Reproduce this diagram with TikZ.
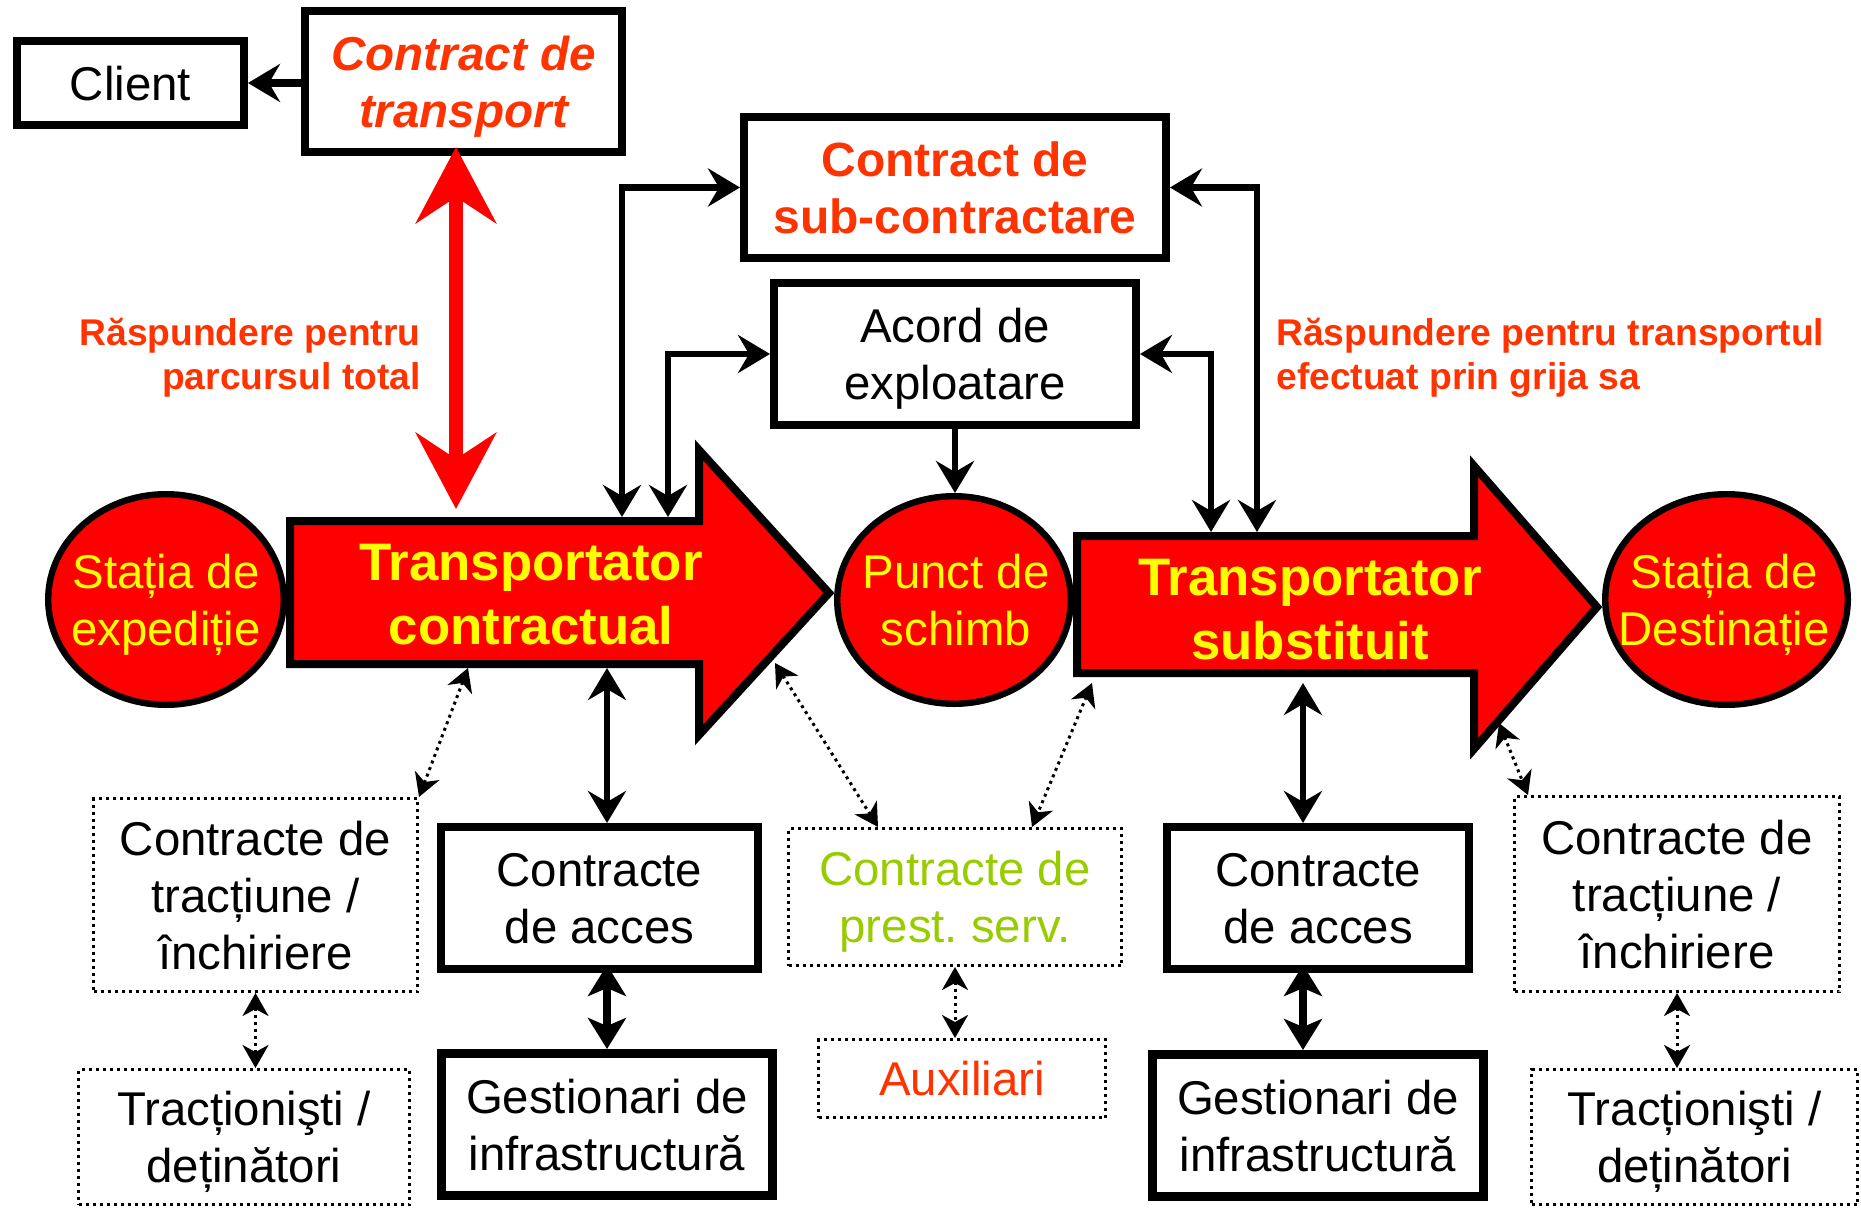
\documentclass[tikz,border=0pt]{standalone}
\usepackage{fontspec}
\setmainfont{Liberation Sans}
\usepackage{tikz}
\usetikzlibrary{arrows.meta, shapes.geometric}
\definecolor{arrowred}{HTML}{FF0000}
\definecolor{textorange}{HTML}{FF3300}
\definecolor{textgreen}{HTML}{99CC00}
\definecolor{textyellow}{HTML}{FFFF00}
\newcommand{\fsz}[2]{\fontsize{#1}{#2}\selectfont}
\tikzset{
	solidbox/.style={draw, line width=3.8pt, inner sep=0pt, align=center, text depth=0pt, font=\fsz{23.7pt}{28.5pt}},
	dotbox/.style={draw, line width=1.5pt, dash pattern=on 1.5pt off 2pt, inner sep=0pt, align=center, text depth=0pt, font=\fsz{23.7pt}{28.5pt}},
	station/.style={ellipse, draw, line width=3.2pt, fill=arrowred, inner sep=0pt},
	stationtext/.style={text=textyellow, align=center, inner sep=0pt, text depth=0pt, font=\fsz{23.7pt}{28.5pt}},
	carrier/.style={draw, line width=4pt, fill=arrowred, line join=miter},
	carriertext/.style={text=textyellow, align=center, inner sep=0pt, text depth=0pt, font=\bfseries\fsz{26.4pt}{32pt}},
	resptext/.style={text=textorange, inner sep=0pt, text depth=0pt, font=\bfseries\fsz{18.6pt}{22pt}},
	link/.style={line width=3.3pt, >={Stealth[length=16pt,width=19pt,inset=5.5pt]}},
	heavylink/.style={line width=4pt, shorten <=-4pt, >={Stealth[length=15.5pt,width=19pt,inset=4pt]}},
	dotlink/.style={line width=1.5pt, dash pattern=on 1.5pt off 2pt, >={Stealth[length=11.5pt,width=13pt,inset=3.5pt]}},
	resp/.style={draw=arrowred, line width=7pt, >={Stealth[length=38pt,width=40pt,inset=13pt]}}
}
\begin{document}
\begin{tikzpicture}[x=0.5pt, y=-0.5pt]
	\useasboundingbox (0,0) rectangle (1861,1208);
	\node[solidbox, minimum width=113.7pt, minimum height=42.2pt] (client) at (130.5,83) {Client};
	\node[solidbox, minimum width=158.7pt, minimum height=70.7pt, text=textorange, font=\bfseries\itshape\fsz{23.8pt}{28.5pt}] (ctransport) at (463.5,81.5) {Contract de\\transport};
	\node[solidbox, minimum width=211.2pt, minimum height=70.7pt, text=textorange, font=\bfseries\fsz{24pt}{28.5pt}] (subcontract) at (955,187.5) {Contract de\\sub-contractare};
	\node[solidbox, minimum width=181.2pt, minimum height=71.2pt] (acord) at (955,354) {Acord de\\exploatare};
	\node[resptext, align=right, anchor=east] (respA) at (421,354) {Răspundere pentru\\parcursul total};
	\node[resptext, align=left, anchor=west] (respB) at (1276,354) {Răspundere pentru transportul\\efectuat prin grija sa};

	\node[station, minimum width=117.8pt, minimum height=105.3pt] (expA) at (166,599.5) {};
	\node[stationtext] (expAtext) at (expA) {Stația de\\expediție};
	\node[station, minimum width=116.8pt, minimum height=103.8pt] (punct) at (954,600) {};
	\node[stationtext] (puncttext) at (956,600) {Punct de\\schimb};
	\node[station, minimum width=121.3pt, minimum height=105.3pt] (dest) at (1726.5,599.5) {};
	\node[stationtext] (desttext) at (1724,600) {Stația de\\Destinație};

	\draw[carrier] (290,521) -- (699,521) -- (699,450) -- (829,593) -- (699,735) -- (699,664) -- (290,664) -- cycle;
	\node[carriertext] (contr) at (531,594) {Transportator\\contractual};
	\draw[carrier] (1077,536) -- (1474,536) -- (1474,466) -- (1597,607) -- (1474,749) -- (1474,673) -- (1077,673) -- cycle;
	\node[carriertext] (subst) at (1310,609) {Transportator\\substituit};

	\node[dotbox, minimum width=162pt, minimum height=96.5pt] (tractA) at (255.5,895) {Contracte de\\tracțiune /\\închiriere};
	\node[solidbox, minimum width=158.7pt, minimum height=71.2pt] (accesA) at (599.5,898) {Contracte\\de acces};
	\node[dotbox, minimum width=166.5pt, minimum height=68.5pt, text=textgreen] (prest) at (955,897) {Contracte de\\prest.\ serv.};
	\node[solidbox, minimum width=151.2pt, minimum height=71.2pt] (accesB) at (1318,898) {Contracte\\de acces};
	\node[dotbox, minimum width=162.5pt, minimum height=97.5pt] (tractB) at (1677,894) {Contracte de\\tracțiune /\\închiriere};
	\node[dotbox, minimum width=165.5pt, minimum height=67.5pt] (tractionA) at (244,1137) {Tracționişti /\\deținători};
	\node[solidbox, line width=4.6pt, minimum width=165.4pt, minimum height=70.9pt] (gestA) at (607,1124.5) {Gestionari de\\infrastructură};
	\node[dotbox, minimum width=143.5pt, minimum height=39pt, text=textorange] (aux) at (962,1078.5) {Auxiliari};
	\node[solidbox, line width=4.6pt, minimum width=165.4pt, minimum height=70.9pt] (gestB) at (1318,1125.5) {Gestionari de\\infrastructură};
	\node[dotbox, minimum width=163pt, minimum height=67.5pt] (tractionB) at (1694.5,1137) {Tracționişti /\\deținători};

	\coordinate (redtop) at (456,147);
	\coordinate (redbot) at (456,509);
	\coordinate (contrtop1) at (622,517);
	\coordinate (contrtop2) at (668,517);
	\coordinate (substtop1) at (1211,532);
	\coordinate (substtop2) at (1257,532);
	\coordinate (contrbot1) at (468,668);
	\coordinate (contrbot2) at (607,668);
	\coordinate (contrbot3) at (775,663);
	\coordinate (substbot1) at (1092,683);
	\coordinate (substbot2) at (1303,683);
	\coordinate (substbot3) at (1499,723);

	\draw[link, line width=3.8pt, ->] (ctransport.west |- client.east) -- (client.east);
	\draw[resp, <->] (redtop) -- (redbot);
	\draw[link, <->] (contrtop1) |- (subcontract.west);
	\draw[link, <->] (contrtop2) |- (acord.west);
	\draw[link, <->] (substtop2) |- (subcontract.east);
	\draw[link, <->] (substtop1) |- (acord.east);
	\draw[link, ->] (acord.south) -- (acord.south |- punct.north);

	\draw[dotlink, <->] (contrbot1) -- (tractA.north east);
	\draw[link, <->] (contrbot2) -- (contrbot2 |- accesA.north);
	\draw[heavylink, <->] (contrbot2 |- accesA.south) -- (contrbot2 |- gestA.north);
	\draw[dotlink, <->] (contrbot3) -- ([xshift=-38.5pt]prest.north);
	\draw[dotlink, <->] (substbot1) -- ([xshift=38.5pt]prest.north);
	\draw[link, <->] (substbot2) -- (substbot2 |- accesB.north);
	\draw[heavylink, <->] (substbot2 |- accesB.south) -- (substbot2 |- gestB.north);
	\draw[dotlink, <->] (substbot3) -- ([xshift=7.5pt]tractB.north west);
	\draw[dotlink, <->] (tractA.south) -- (tractA.south |- tractionA.north);
	\draw[dotlink, <->] (prest.south) -- (prest.south |- aux.north);
	\draw[dotlink, <->] (tractB.south) -- (tractB.south |- tractionB.north);
\end{tikzpicture}
\end{document}
